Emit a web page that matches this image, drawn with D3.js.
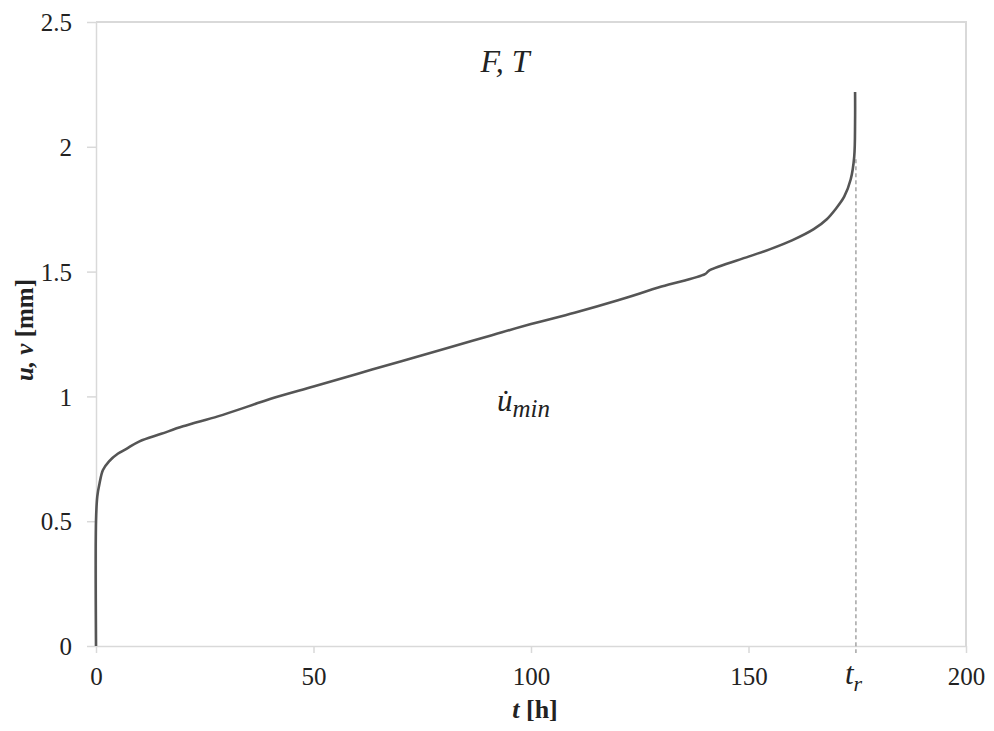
<!DOCTYPE html>
<html>
<head>
<meta charset="utf-8">
<script src="https://cdn.jsdelivr.net/npm/d3@7"></script>
<style>
  body { margin: 0; background: #fff; }
  svg text { font-family: "Liberation Serif", "DejaVu Serif", serif; fill: #222; }
</style>
</head>
<body>
<svg width="994" height="731"></svg>
<script>
const width = 994;
const height = 731;
const margin = { top: 22, right: 28, bottom: 85, left: 96 };

// creep curve
const tHours = [0, 0, 0.3, 0.8, 1.6, 3, 5, 7, 10, 15, 20, 28, 35, 40, 50, 60, 70, 75, 80, 90,
    100, 110, 120, 130, 140, 141, 150, 155, 160, 165, 168, 170, 172, 173.5, 174.3, 174.5, 174.5];
const uMm = [0, 0.5, 0.6, 0.65, 0.705, 0.74, 0.77, 0.79, 0.82, 0.85, 0.88, 0.92, 0.96, 0.99, 1.04, 1.09, 1.14, 1.165, 1.19, 1.24,
    1.29, 1.335, 1.385, 1.44, 1.49, 1.505, 1.56, 1.59, 1.625, 1.67, 1.71, 1.75, 1.80, 1.87, 1.96, 2.1, 2.22];
const tRupture = 174.7;
const xTicks = [0, 50, 100, 150, 200];
const yTicks = [0, 0.5, 1, 1.5, 2, 2.5];

const svg = d3.select("svg");

const x = d3.scaleLinear().domain([0, 200]).range([margin.left, width - margin.right]);
const y = d3.scaleLinear().domain([0, 2.5]).range([height - margin.bottom, margin.top]);

const grey = "#d9d9d9";

// frame: top and right edges
svg.append("path")
    .attr("d", `M${x(0)},${y(2.5)}H${x(200)}V${y(0)}`)
    .attr("fill", "none")
    .attr("stroke", grey)
    .attr("stroke-width", 2);

const xAxis = svg.append("g")
    .attr("transform", `translate(0,${y(0)})`)
    .call(d3.axisBottom(x).tickValues(xTicks).tickSize(7).tickSizeOuter(0).tickFormat((d) => d));
xAxis.select(".domain").attr("stroke", grey).attr("stroke-width", 1.5);
xAxis.selectAll(".tick line").attr("stroke", grey).attr("stroke-width", 1.5);
xAxis.selectAll(".tick text")
    .attr("dy", 0)
    .attr("y", 39)
    .style("font-size", "25px")
    .style("fill", "#222");

const yAxis = svg.append("g")
    .attr("transform", `translate(${x(0)},0)`)
    .call(d3.axisLeft(y).tickValues(yTicks).tickSize(9).tickSizeOuter(0).tickFormat((d) => d));
yAxis.select(".domain").attr("stroke", grey).attr("stroke-width", 1.5);
yAxis.selectAll(".tick line").attr("stroke", grey).attr("stroke-width", 1.5);
yAxis.selectAll(".tick text")
    .attr("x", -24)
    .attr("dy", "0.35em")
    .style("font-size", "25px")
    .style("fill", "#222");

// rupture time marker
svg.append("line")
    .attr("x1", x(tRupture)).attr("x2", x(tRupture))
    .attr("y1", y(1.95)).attr("y2", y(0) + 7)
    .attr("stroke", "#777")
    .attr("stroke-width", 1)
    .attr("stroke-dasharray", "4,3");

const points = tHours.map((t, i) => [t, uMm[i]]);
svg.append("path")
    .datum(points)
    .attr("fill", "none")
    .attr("stroke", "#555")
    .attr("stroke-width", 2.6)
    .attr("stroke-linejoin", "round")
    .attr("d", d3.line().curve(d3.curveCatmullRom.alpha(0.5)).x((d) => x(d[0])).y((d) => y(d[1])));

// t_r label
const tr = svg.append("text")
    .attr("x", x(tRupture) - 11)
    .attr("y", 684)
    .style("font-size", "31px")
    .style("font-style", "italic");
tr.append("tspan").text("t");
tr.append("tspan").attr("dy", 7).style("font-size", "22px").text("r");

// in-plot labels
svg.append("text")
    .attr("x", 505)
    .attr("y", 72)
    .attr("text-anchor", "middle")
    .style("font-size", "32px")
    .style("font-style", "italic")
    .text("F, T");

const um = svg.append("text")
    .attr("x", 497)
    .attr("y", 411)
    .style("font-size", "31px")
    .style("font-style", "italic");
um.append("tspan").text("u\u0307");
um.append("tspan").attr("dy", 6).style("font-size", "25px").text("min");

// axis titles
const xt = svg.append("text")
    .attr("x", 535)
    .attr("y", 718)
    .attr("text-anchor", "middle")
    .style("font-size", "26px")
    .style("font-weight", "bold");
xt.append("tspan").style("font-style", "italic").text("t");
xt.append("tspan").text(" [h]");

const yt = svg.append("text")
    .attr("transform", "translate(33,330) rotate(-90)")
    .attr("text-anchor", "middle")
    .style("font-size", "25px")
    .style("font-weight", "bold");
yt.append("tspan").style("font-style", "italic").text("u, v");
yt.append("tspan").text(" [mm]");
</script>
</body>
</html>
